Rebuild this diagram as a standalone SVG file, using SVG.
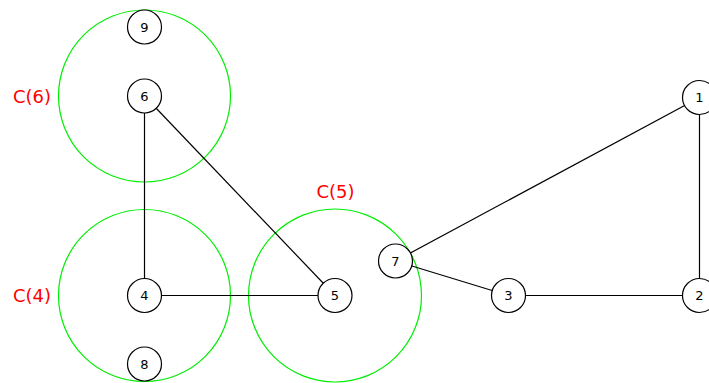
<svg xmlns="http://www.w3.org/2000/svg" width="709" height="383" viewBox="0 0 709 383">
<style>
.clu{fill:none;stroke:#00ee00;stroke-width:1.2}
.lab{font-family:"DejaVu Sans",sans-serif;font-size:18px;fill:#ff0000;text-anchor:middle}
.edge{stroke:#000;stroke-width:1.2;fill:none}
.node circle{fill:#fff;stroke:#000;stroke-width:1.2}
.node text{font-family:"DejaVu Sans",sans-serif;font-size:13px;fill:#000;text-anchor:middle}
</style>
<rect width="709" height="383" fill="#fff"/>
<g id="clusters">
<circle class="clu" cx="144.5" cy="96" r="86"/>
<circle class="clu" cx="144.5" cy="295.5" r="86"/>
<circle class="clu" cx="335" cy="295.5" r="86.5"/>
<text class="lab" x="32" y="102.5">C(6)</text>
<text class="lab" x="32" y="302">C(4)</text>
<text class="lab" x="335.5" y="198">C(5)</text>
</g>
<g id="connectors">
<line class="edge" x1="144.5" y1="96" x2="144.5" y2="295.5"/>
<line class="edge" x1="144.5" y1="96" x2="335" y2="295.5"/>
<line class="edge" x1="144.5" y1="295.5" x2="335" y2="295.5"/>
<line class="edge" x1="395.5" y1="261" x2="699.5" y2="97.5"/>
<line class="edge" x1="395.5" y1="261" x2="508.5" y2="295.5"/>
<line class="edge" x1="508.5" y1="295.5" x2="699.5" y2="295.5"/>
<line class="edge" x1="699.5" y1="97.5" x2="699.5" y2="295.5"/>
</g>
<g id="n9" class="node"><circle cx="144.5" cy="27" r="17"/><text x="144.5" y="31.7">9</text></g>
<g id="n6" class="node"><circle cx="144.5" cy="96" r="17"/><text x="144.5" y="100.7">6</text></g>
<g id="n4" class="node"><circle cx="144.5" cy="295.5" r="17"/><text x="144.5" y="300.2">4</text></g>
<g id="n8" class="node"><circle cx="144.5" cy="364" r="17"/><text x="144.5" y="368.7">8</text></g>
<g id="n5" class="node"><circle cx="335" cy="295.5" r="17"/><text x="335" y="300.2">5</text></g>
<g id="n7" class="node"><circle cx="395.5" cy="261" r="17"/><text x="395.5" y="265.7">7</text></g>
<g id="n3" class="node"><circle cx="508.5" cy="295.5" r="17"/><text x="508.5" y="300.2">3</text></g>
<g id="n2" class="node"><circle cx="699.5" cy="295.5" r="17"/><text x="699.5" y="300.2">2</text></g>
<g id="n1" class="node"><circle cx="699.5" cy="97.5" r="17"/><text x="699.5" y="102.2">1</text></g>
</svg>
